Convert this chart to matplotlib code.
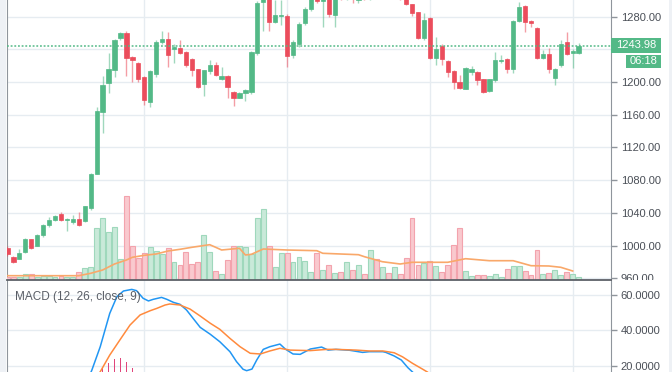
import matplotlib.pyplot as plt
from matplotlib.patches import Rectangle

W, H = 672, 372
GREEN = '#53b987'
RED = '#eb4d5c'
GRID = '#e6ecf1'
AXIS = '#8f959c'
TXT = '#4a4f57'

# candles: open, high, low, close (k = candle index)
opens = [996.6, 986, 984, 992.5, 1007.6, 1000, 1012.9, 1024.8, 1030.9, 1038.6,
         1030.9, 1028.4, 1032.5, 1030, 1045.5, 1088, 1163.8, 1198.9, 1214.8, 1253.5,
         1260.4, 1230.3, 1222.9, 1205.8, 1176, 1210, 1248.6, 1252.3, 1241, 1242,
         1237, 1227.8, 1215.6, 1197.6, 1213.5, 1220.5, 1204, 1208, 1187.9, 1181,
         1186.2, 1187.9, 1235.1, 1298, 1312, 1274, 1281.4, 1281, 1233, 1246,
         1272.7, 1289.4, 1305, 1299, 1308, 1282, 1307, 1303, 1308, 1301,
         1306, 1303, 1310, 1305, 1309, 1306, 1310, 1303, 1295, 1285.3,
         1253.9, 1278, 1229.8, 1244.5, 1225.8, 1213.5, 1200, 1191.9, 1212.3, 1212.3,
         1203.3, 1189.1, 1202.5, 1225.2, 1227.8, 1216, 1275.1, 1293, 1275.1, 1266.5,
         1229, 1234.3, 1205.4, 1220.9, 1248.6, 1235.5, 1235.1]
highs = [999, 987.5, 996, 1009, 1008.5, 1014.5, 1026, 1035, 1038, 1041,
         1034, 1037, 1040.6, 1049, 1088.5, 1169, 1207.4, 1235, 1253, 1261.6,
         1262.9, 1231.5, 1224, 1207, 1215, 1251, 1262.9, 1261.6, 1246, 1251.5,
         1238, 1229, 1216.5, 1215, 1227, 1224.5, 1218, 1209, 1189, 1188,
         1192, 1238, 1299, 1318, 1316, 1301, 1301, 1283, 1252, 1273,
         1292, 1310, 1310, 1308, 1312, 1309, 1312, 1314, 1312, 1310,
         1311, 1314, 1315, 1313, 1312, 1314, 1312, 1306, 1296, 1286,
         1284, 1279, 1255.5, 1246, 1227, 1215, 1208.6, 1218, 1219.6, 1214,
         1204, 1204, 1236.4, 1233.1, 1229, 1276, 1298.3, 1294, 1276, 1267,
         1239.2, 1241.3, 1217, 1251.5, 1261.6, 1240, 1248]
lows = [987, 979, 983, 991, 996, 999, 1011, 1023, 1030, 1030,
        1018, 1027, 1024, 1029, 1044, 1087, 1137.3, 1186.2, 1205.8, 1251,
        1207.8, 1200.5, 1200.5, 1172, 1169, 1205.8, 1246, 1218.8, 1223, 1234,
        1219, 1207, 1193, 1183, 1210, 1207, 1203, 1180.5, 1170.7, 1180,
        1176.8, 1185, 1233, 1263, 1263, 1272, 1269.8, 1218.8, 1229, 1243,
        1270, 1287, 1297, 1267, 1280, 1267, 1301, 1301, 1297, 1297,
        1301, 1301, 1302, 1302, 1303, 1303, 1301, 1294, 1281, 1253,
        1252, 1228, 1220.9, 1220.9, 1205.8, 1191, 1191, 1191, 1208.6, 1196.4,
        1187, 1188, 1200, 1222.9, 1210.7, 1210.7, 1274, 1261.6, 1266.9, 1228,
        1228, 1211.5, 1196.4, 1219, 1233, 1216.8, 1234]
closes = [989.7, 980.3, 990.5, 1007.6, 997.4, 1013.3, 1025.2, 1031.7, 1036.6, 1031.3,
          1032.9, 1032.9, 1024.8, 1048.4, 1087.5, 1164.6, 1196.4, 1215.6, 1251, 1259.6,
          1229.4, 1227, 1204.2, 1178, 1213.5, 1249.4, 1253, 1233, 1243, 1236,
          1220.9, 1214.8, 1194.4, 1214.4, 1220.9, 1208.6, 1208, 1194.4, 1181, 1186.6,
          1190.7, 1236.4, 1296.7, 1312, 1274, 1282, 1282, 1232, 1249, 1271.4,
          1290, 1306, 1299, 1305, 1283, 1306, 1303, 1309, 1302, 1306,
          1303, 1310, 1305, 1309, 1306, 1310, 1303, 1295, 1284.9, 1253.9,
          1276, 1229.8, 1240, 1228.2, 1212.7, 1199.6, 1193.1, 1216.8, 1215.6, 1202.5,
          1188.3, 1203.3, 1226.6, 1226.6, 1216, 1275.1, 1291.4, 1273.9, 1271.8, 1229,
          1234, 1216, 1215.6, 1247, 1234.3, 1238.4, 1243.98]
volumes = [2.2, 2.2, 2.2, 5.2, 5.2, 2.2, 3.5, 3.5, 2.2, 3.5,
           2.2, 2.2, 7.2, 11.5, 12.5, 51.8, 61.5, 47.8, 52.8, 20.2,
           83.2, 33.8, 21.8, 26.2, 32.2, 28.5, 25.5, 31.2, 17.2, 14.2,
           27.2, 15.2, 17.2, 44.8, 27.2, 8.2, 5.5, 19.2, 33.8, 33.8,
           33.0, 25.2, 61.8, 70.5, 33.2, 12.5, 26.2, 26.2, 17.5, 22.2,
           18.5, 8.0, 26.2, 9.5, 14.2, 6.3, 7.3, 17.3, 9.5, 14.2,
           5.3, 29.5, 20.3, 12.5, 6.2, 12.5, 5.3, 21.5, 61.8, 14.2,
           16.2, 18.3, 13.5, 7.5, 14.2, 34.5, 51.8, 8.2, 3.5, 4.2,
           4.2, 3.5, 5.2, 2.5, 10.2, 13.5, 13.5, 8.5, 4.2, 29.2,
           5.2, 6.5, 9.2, 4.5, 7.2, 5.2, 2.5]

# volume moving average (read at a few candles)
ma_k = [0, 12, 14, 16, 18, 20, 21, 23, 25, 27, 29, 31, 34, 35, 36, 39, 40, 41, 43,
        47, 52, 53, 59, 60, 63, 66, 68, 74, 77, 81, 85, 88, 91, 93, 95]
ma_vol = [3.8, 3.8, 6.2, 9.5, 15.5, 19.5, 22.2, 24.2, 25.5, 28.5, 30.2, 32.2, 34.8, 32.2,
          29.5, 31.2, 24.5, 25.2, 30.5, 29.5, 28.8, 26.2, 24.8, 22.8, 17.8, 15.5, 17.2,
          17.2, 20.8, 18.8, 18.8, 13.8, 13.5, 12.2, 8.5]

# MACD (12, 26, close, 9)
macd_k = [13.5, 14.2, 15.6, 17.2, 18.4, 19.5, 20.9, 21.7, 22.8, 23.7, 24.5, 25.9, 26.8,
          27.9, 29, 30.1, 31.2, 32.4, 34.1, 35.7, 37.4, 38.5, 39.6, 40.2, 41.1, 41.9,
          43, 44.1, 45.8, 46.7, 48, 49.2, 50.9, 52.8, 53.9, 55.2, 57.5, 59.7, 60.8,
          63.1, 63.6, 65, 66.2, 67.3, 68.1, 69]
macd_val = [12, 17.6, 30.7, 49.5, 58.9, 62.1, 63, 62.3, 58, 56.5, 57.4, 58.5, 57.4,
            55.7, 54.6, 51.4, 46.7, 41.6, 37.7, 33.5, 27.9, 22.3, 18, 17.2, 18.1, 23.2,
            29.2, 30.7, 32.2, 29.4, 26.6, 26.4, 29.4, 30.5, 28.8, 29.2, 28.7, 27.5, 27.9,
            27.9, 27.5, 25.5, 23.2, 18.9, 16.4, 13]
signal_k = [14.5, 15.6, 17.2, 18.9, 20.6, 22.3, 24, 25.1, 26.5, 27.3, 29, 30.7, 32.4,
            34.1, 35.7, 37.4, 39.1, 40.8, 42.5, 44.1, 45.8, 47.5, 50.9, 53.7, 55.2,
            58.6, 60.8, 63.1, 65, 66.4, 68.1, 69.8, 70.6, 71.5]
signal_val = [12, 16.6, 26, 34.5, 42.9, 48.6, 51, 52.3, 54.2, 54.8, 54.2, 51.9, 48,
              43.9, 40.5, 35.4, 30.7, 27, 26.6, 28.3, 29.8, 28.8, 28.5, 29.2, 29.2,
              28.8, 28.3, 28.3, 27.3, 25, 21.3, 18, 16.4, 14]
hist_k = [16, 17, 18, 19, 20, 21]
hist_val = [18.5, 21.5, 23.5, 24.5, 22, 18.5]

price_ticks = [960, 1000, 1040, 1080, 1120, 1160, 1200, 1240, 1280]
macd_ticks = [20, 40, 60]
time_grid = [23, 47, 71, 95]
last_price = 1243.98
countdown = '06:18'

plt.rcParams['font.family'] = ['Liberation Sans', 'DejaVu Sans']
fig = plt.figure(figsize=(W / 100, H / 100), dpi=100)


def rect(x0, y0, x1, y1):
    return [x0 / W, 1 - y1 / H, (x1 - x0) / W, (y1 - y0) / H]


XLIM = (-0.07, 101.44)

# price pane: grid + right axis
ax = fig.add_axes(rect(7, 0, 611, 279.5))
ax.set_zorder(0)
ax.set_xlim(*XLIM)
ax.set_ylim(958.5, 1300.4)
ax.set_yticks(price_ticks)
# the 1240 label sits under the last-price tag
ax.set_yticklabels(['' if abs(t - last_price) < 10 else '%.2f' % t for t in price_ticks])
ax.set_xticks(time_grid)
ax.yaxis.tick_right()
ax.tick_params(axis='y', direction='out', length=4, width=1, color=AXIS,
               labelsize=8, labelcolor=TXT, pad=3)
ax.tick_params(axis='x', length=0, labelbottom=False)
ax.grid(True, color=GRID, linewidth=1)
ax.set_axisbelow(True)
for s in ['top', 'bottom']:
    ax.spines[s].set_visible(False)
ax.spines['right'].set_color(AXIS)
ax.spines['left'].set_color(AXIS)

# volume
vax = fig.add_axes(rect(7, 0, 611, 279.5), sharex=ax)
vax.set_zorder(0.5)
vax.patch.set_visible(False)
vax.set_ylim(0, 279.5)
vax.axis('off')
ks = list(range(len(opens)))
up = [c >= o for o, c in zip(opens, closes)]
vax.bar(ks, volumes, width=0.82,
        color=['#c9e9d9' if u else '#f9c9ce' for u in up],
        edgecolor=['#9fd8bc' if u else '#f3a3ad' for u in up], linewidth=0.8)
vax.plot(ma_k, ma_vol, color='#f9a86a', linewidth=1.2)

# candles
cax = fig.add_axes(rect(7, 0, 611, 279.5), sharex=ax, sharey=ax)
cax.set_zorder(0.6)
cax.patch.set_visible(False)
cax.axis('off')
cols = [GREEN if u else RED for u in up]
cax.vlines(ks, lows, highs, colors=cols, linewidth=1, alpha=0.55)
bottoms = [min(o, c) for o, c in zip(opens, closes)]
heights = [max(abs(c - o), 1.0) for o, c in zip(opens, closes)]
cax.bar(ks, heights, bottom=bottoms, width=0.72, color=cols, edgecolor=cols, linewidth=0.5)
cax.axhline(last_price, color=GREEN, linestyle=(0, (1.2, 1.2)), linewidth=1.1)
ax.set_xlim(*XLIM)
ax.set_ylim(958.5, 1300.4)

# cover under price axis for the bottom pane
fig.patches.append(Rectangle((611 / W, 0), 58 / W, 92 / H, transform=fig.transFigure,
                             facecolor='white', edgecolor='none', zorder=0.8))

# MACD pane
mx = fig.add_axes(rect(7, 280, 611, 372))
mx.set_zorder(0.9)
mx.set_xlim(*XLIM)
mx.set_ylim(16.45, 68.3)
mx.set_yticks(macd_ticks)
mx.set_yticklabels(['%.4f' % t for t in macd_ticks])
mx.set_xticks(time_grid)
mx.yaxis.tick_right()
mx.tick_params(axis='y', direction='out', length=4, width=1, color=AXIS,
               labelsize=8, labelcolor=TXT, pad=3)
mx.tick_params(axis='x', length=0, labelbottom=False)
mx.grid(True, color=GRID, linewidth=1)
mx.set_axisbelow(True)
mx.spines['bottom'].set_visible(False)
mx.spines['top'].set_color('#5d6168')
mx.spines['top'].set_linewidth(1.3)
mx.spines['right'].set_color(AXIS)
mx.spines['left'].set_color(AXIS)
mx.bar(hist_k, hist_val, width=0.25, color='#e0457b')
mx.plot(macd_k, macd_val, color='#2196f3', linewidth=1.1)
mx.plot(signal_k, signal_val, color='#ff8a3d', linewidth=1.1)
mx.text(8 / 604, 1 - 17 / 92, 'MACD (12, 26, close, 9)', transform=mx.transAxes,
        fontsize=8.5, color='#5a5e66', ha='left', va='center')

# side strips
fig.patches.append(Rectangle((0, 0), 6 / W, 1, transform=fig.transFigure,
                             facecolor='#eef1f5', edgecolor='none', zorder=2))
fig.patches.append(Rectangle((669 / W, 0), 3 / W, 1, transform=fig.transFigure,
                             facecolor='#eef1f5', edgecolor='none', zorder=2))

# last price / countdown labels
fig.patches.append(Rectangle((611 / W, 1 - 53 / H), 50 / W, 15 / H, transform=fig.transFigure,
                             facecolor=GREEN, edgecolor='none', zorder=3))
fig.text(636 / W, 1 - 45.5 / H, '%.2f' % last_price, color='white', fontsize=8,
         ha='center', va='center', zorder=4)
fig.patches.append(Rectangle((626 / W, 1 - 68 / H), 35 / W, 13 / H, transform=fig.transFigure,
                             facecolor=GREEN, edgecolor='none', zorder=3))
fig.text(643.5 / W, 1 - 61.5 / H, countdown, color='white', fontsize=8,
         ha='center', va='center', zorder=4)

fig.savefig('out.png', dpi=100, facecolor='white')
